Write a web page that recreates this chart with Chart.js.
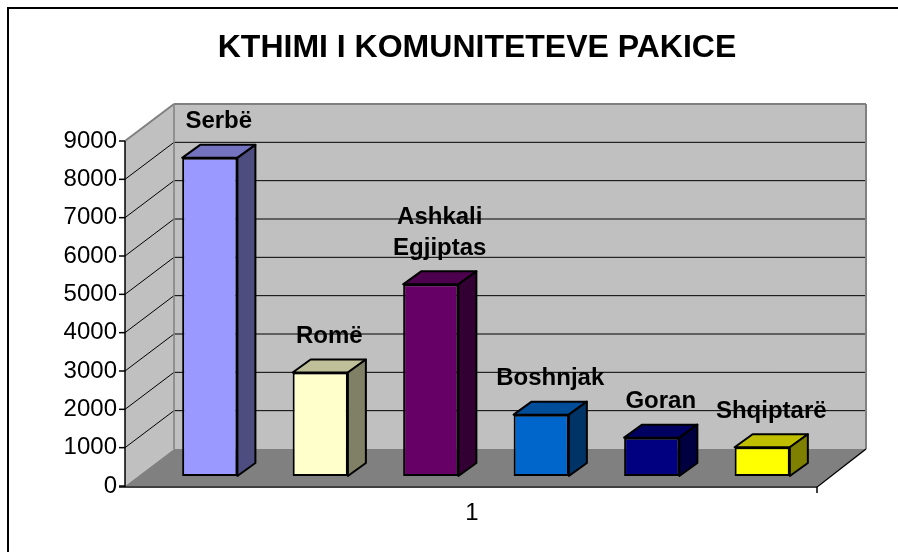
<!DOCTYPE html>
<html>
<head>
<meta charset="utf-8">
<script src="https://cdn.jsdelivr.net/npm/chart.js@4/dist/chart.umd.min.js"></script>
<style>
  html, body { margin: 0; padding: 0; background: #fff; }
</style>
</head>
<body>
<canvas id="chart" width="898" height="552"></canvas>
<script>
// data
const categories = ['1'];
const seriesNames = ['Serbë', 'Romë', 'Ashkali Egjiptas', 'Boshnjak', 'Goran', 'Shqiptarë'];
const seriesValues = [8300, 2700, 5000, 1600, 1000, 750];
const yTicks = [0, 1000, 2000, 3000, 4000, 5000, 6000, 7000, 8000, 9000];
const faceColors = ['#9999FF', '#FFFFCC', '#660066', '#0066CC', '#000080', '#FFFF00'];

// 3d look
const DEPTH_X = 49, DEPTH_Y = 37;   // front plane -> back wall
const FRONT_DX = -15, FRONT_DY = 10; // bar plane -> front plane
const BAR_DX = 18, BAR_DY = 13;      // bar thickness

function shade(hex, f) {
  const n = parseInt(hex.slice(1), 16);
  const r = Math.round(((n >> 16) & 255) * f);
  const g = Math.round(((n >> 8) & 255) * f);
  const b = Math.round((n & 255) * f);
  return 'rgb(' + r + ',' + g + ',' + b + ')';
}

function poly(ctx, pts, fill, stroke, lw) {
  ctx.beginPath();
  ctx.moveTo(pts[0][0], pts[0][1]);
  for (let i = 1; i < pts.length; i++) ctx.lineTo(pts[i][0], pts[i][1]);
  ctx.closePath();
  if (fill) { ctx.fillStyle = fill; ctx.fill(); }
  if (stroke) { ctx.strokeStyle = stroke; ctx.lineWidth = lw || 1; ctx.stroke(); }
}

function line(ctx, x1, y1, x2, y2, color, lw) {
  ctx.beginPath();
  ctx.moveTo(x1, y1);
  ctx.lineTo(x2, y2);
  ctx.strokeStyle = color;
  ctx.lineWidth = lw || 1;
  ctx.stroke();
}

const box3d = {
  id: 'box3d',
  beforeDraw(chart) {
    const ctx = chart.ctx;
    ctx.save();
    ctx.fillStyle = '#fff';
    ctx.fillRect(0, 0, chart.width, chart.height);
    ctx.strokeStyle = '#000';
    ctx.lineWidth = 2;
    ctx.strokeRect(8, 8, chart.width + 20, chart.height + 20);
    ctx.restore();
  },
  beforeDatasetsDraw(chart) {
    const ctx = chart.ctx, area = chart.chartArea, ys = chart.scales.y;
    const vmax = yTicks[yTicks.length - 1];
    const fy = v => ys.getPixelForValue(v) + FRONT_DY;
    const by = v => fy(v) - DEPTH_Y;
    const fl = area.left + FRONT_DX, fr = area.right + FRONT_DX;
    const bl = fl + DEPTH_X, br = fr + DEPTH_X;
    ctx.save();
    // back wall, side wall, floor
    poly(ctx, [[bl, by(vmax)], [br, by(vmax)], [br, by(0)], [bl, by(0)]], '#C0C0C0');
    poly(ctx, [[fl, fy(vmax)], [bl, by(vmax)], [bl, by(0)], [fl, fy(0)]], '#C0C0C0');
    poly(ctx, [[fl, fy(0)], [fr, fy(0)], [br, by(0)], [bl, by(0)]], '#808080');
    // gridlines
    yTicks.forEach(v => {
      if (v === 0 || v === vmax) return;
      line(ctx, bl, by(v), br, by(v), '#000', 1);
      line(ctx, fl, fy(v), bl, by(v), '#000', 1);
    });
    // wall edges
    line(ctx, fl, fy(vmax), bl, by(vmax), '#808080', 2);
    line(ctx, bl, by(vmax), br, by(vmax), '#808080', 2);
    line(ctx, br, by(vmax), br, by(0), '#808080', 2);
    line(ctx, bl, by(vmax), bl, by(0), '#808080', 1.5);
    // front axes
    line(ctx, fl, fy(0) + 1, fl, fy(vmax), '#000', 1.5);
    yTicks.forEach(v => line(ctx, fl - 6, fy(v), fl, fy(v), '#000', 1.5));
    line(ctx, fl - 6, fy(0) + 1, fr, fy(0) + 1, '#000', 1.5);
    line(ctx, fr, fy(0) + 1, br, by(0), '#000', 1.5);
    line(ctx, fr, fy(0) + 1, fr, fy(0) + 7, '#000', 1.5);
    ctx.restore();
  },
  afterDatasetsDraw(chart) {
    const ctx = chart.ctx;
    ctx.save();
    ctx.lineJoin = 'round';
    chart.data.datasets.forEach((ds, i) => {
      const bar = chart.getDatasetMeta(i).data[0];
      const l = bar.x - bar.width / 2, r = bar.x + bar.width / 2;
      const t = bar.y, b = bar.base;
      poly(ctx, [[l, t], [l + BAR_DX, t - BAR_DY], [r + BAR_DX, t - BAR_DY], [r, t]],
        shade(faceColors[i], 0.75), '#000', 2);
      poly(ctx, [[r, t], [r + BAR_DX, t - BAR_DY], [r + BAR_DX, b - BAR_DY], [r, b]],
        shade(faceColors[i], 0.5), '#000', 2);
      // label above the bar
      const words = ds.label.split(' ');
      ctx.fillStyle = '#000';
      ctx.font = 'bold 24px "Liberation Sans", Arial, sans-serif';
      ctx.textAlign = 'center';
      ctx.textBaseline = 'middle';
      words.forEach((w, k) => {
        ctx.fillText(w, bar.x + BAR_DX / 2, t - 36 - (words.length - 1 - k) * 31);
      });
    });
    ctx.restore();
  }
};

Chart.defaults.font.family = '"Liberation Sans", Arial, sans-serif';
Chart.defaults.color = '#000';

new Chart(document.getElementById('chart'), {
  type: 'bar',
  data: {
    labels: categories,
    datasets: seriesNames.map((name, i) => ({
      label: name,
      data: [seriesValues[i]],
      backgroundColor: faceColors[i],
      borderColor: '#000',
      borderWidth: 2,
      borderSkipped: false,
      categoryPercentage: 0.958,
      barPercentage: 0.5
    }))
  },
  options: {
    responsive: false,
    animation: false,
    layout: { padding: { left: 56, right: 0, top: 0, bottom: 0 } },
    plugins: {
      legend: { display: false },
      tooltip: { enabled: false },
      title: {
        display: true,
        text: 'KTHIMI I KOMUNITETEVE PAKICE',
        color: '#000',
        font: { size: 32, weight: 'bold' },
        padding: { top: 29, bottom: 63.6 }
      }
    },
    scales: {
      x: {
        grid: { display: false, drawTicks: false },
        border: { display: false },
        ticks: { font: { size: 24 }, color: '#000', padding: 23, labelOffset: -14 },
        afterFit: s => { s.height = 76; }
      },
      y: {
        min: 0,
        max: 9000,
        grid: { display: false, drawTicks: false },
        border: { display: false },
        ticks: {
          stepSize: 1000,
          font: { size: 24 },
          color: '#000',
          padding: 23,
          labelOffset: 10,
          callback: v => String(v)
        },
        afterFit: s => { s.width = 84; }
      },
      // empty right axis, only keeps room for the depth of the box
      yRoom: {
        position: 'right',
        grid: { display: false, drawTicks: false },
        border: { display: false },
        ticks: { display: false },
        afterFit: s => { s.width = 66; }
      }
    }
  },
  plugins: [box3d]
});
</script>
</body>
</html>
